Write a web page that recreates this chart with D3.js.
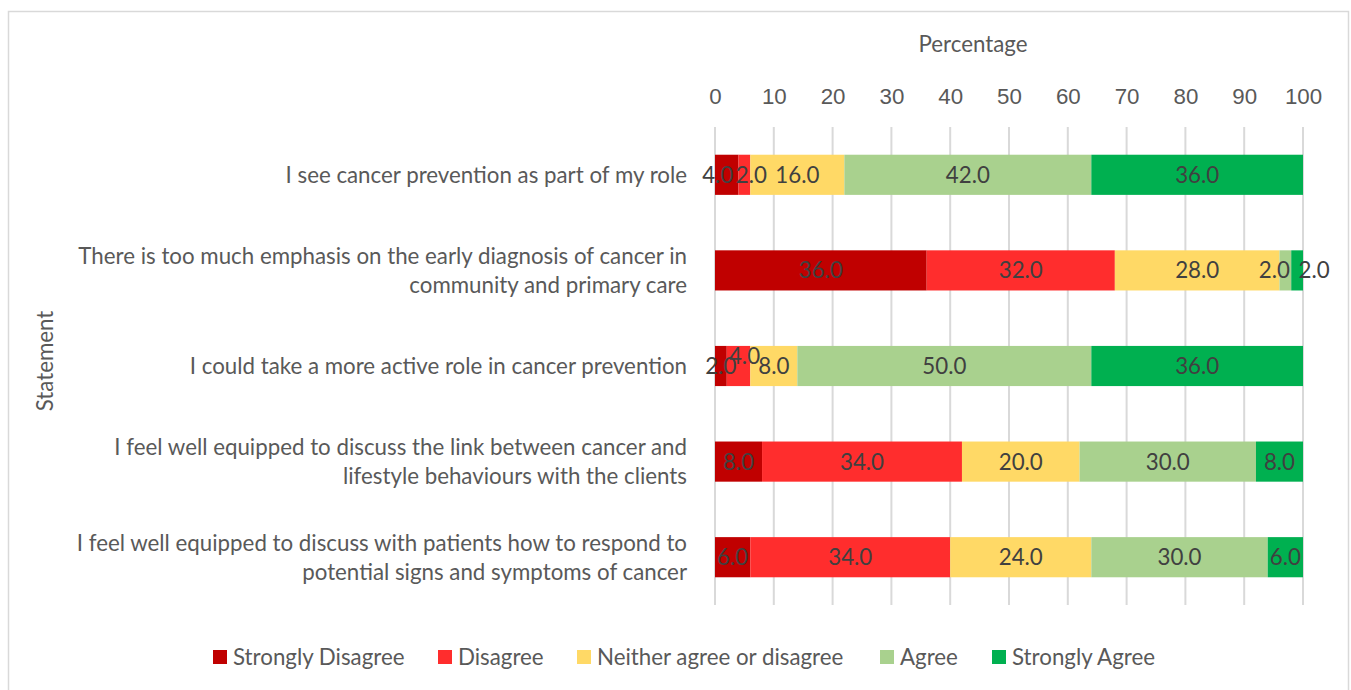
<!DOCTYPE html>
<html>
<head>
<meta charset="utf-8">
<script src="https://cdn.jsdelivr.net/npm/d3@7"></script>
<style>
body { margin: 0; background: #fff; }
svg { font-family: Lato, "Open Sans", sans-serif; }
</style>
</head>
<body>
<svg id="chart" width="1351" height="690"></svg>
<script>
var statements = [
	["I see cancer prevention as part of my role"],
	["There is too much emphasis on the early diagnosis of cancer in", "community  and primary care"],
	["I could take a more active role in cancer prevention"],
	["I feel well equipped to discuss the link between cancer and", "lifestyle behaviours with the clients"],
	["I feel well equipped to discuss with patients how to respond to", "potential signs and symptoms of cancer"]
];
var seriesNames = ["Strongly Disagree", "Disagree", "Neither agree or disagree", "Agree", "Strongly Agree"];
var seriesColors = ["#C00000", "#FF2D2D", "#FFD966", "#A9D18E", "#00B050"];
var stronglyDisagree = [4, 36, 2, 8, 6];
var disagree = [2, 32, 4, 34, 34];
var neither = [16, 28, 8, 20, 24];
var agree = [42, 2, 50, 30, 30];
var stronglyAgree = [36, 2, 36, 8, 6];
var xTicks = [0, 10, 20, 30, 40, 50, 60, 70, 80, 90, 100];

// small nudges for crowded labels, as in the original
var labelNudge = { "0-0": [-9, 0], "0-1": [7, 0], "1-3": [-11, 0], "1-4": [17, 0], "2-1": [6, -10] };

var allSeries = [stronglyDisagree, disagree, neither, agree, stronglyAgree];
var rows = statements.map(function(s, i) {
	var r = { idx: i };
	seriesNames.forEach(function(n, j) { r[n] = allSeries[j][i]; });
	return r;
});

var svg = d3.select("#chart");
var textCol = "#595959";
var fs = "22.3px";

svg.append("rect")
	.attr("x", 8.5).attr("y", 11.5).attr("width", 1340).attr("height", 700)
	.style("fill", "none").style("stroke", "#d9d9d9").style("stroke-width", 1.5);

var xScale = d3.scaleLinear().domain([0, 100]).range([715, 1303]);
var yScale = d3.scaleBand().domain(d3.range(statements.length)).range([127, 605]).paddingInner(0.58).paddingOuter(0.29);

// gridlines
svg.append("g").selectAll("line")
	.data(xTicks).enter().append("line")
	.attr("x1", d => xScale(d)).attr("x2", d => xScale(d))
	.attr("y1", 127).attr("y2", 605)
	.style("stroke", "#d9d9d9").style("stroke-width", 2);

// top axis labels
var xAxis = d3.axisTop(xScale).tickValues(xTicks).tickSize(0).tickPadding(0);
var gx = svg.append("g").attr("transform", "translate(0,104)").call(xAxis);
gx.select(".domain").remove();
gx.selectAll("text").style("font-size", fs).style("fill", textCol).style("font-family", "inherit");

svg.append("text").attr("x", xScale(50) - 36).attr("y", 52).attr("text-anchor", "middle")
	.style("font-size", fs).style("fill", textCol).text("Percentage");

svg.append("text").attr("transform", "translate(53,361) rotate(-90)").attr("text-anchor", "middle")
	.style("font-size", fs).style("fill", textCol).text("Statement");

var stack = d3.stack().keys(seriesNames)(rows);

var layers = svg.append("g").selectAll("g")
	.data(stack).enter().append("g")
	.style("fill", (d, i) => seriesColors[i]);

layers.selectAll("rect")
	.data(d => d).enter().append("rect")
	.attr("x", d => xScale(d[0]))
	.attr("y", d => yScale(d.data.idx))
	.attr("width", d => xScale(d[1]) - xScale(d[0]))
	.attr("height", yScale.bandwidth());

// data labels
stack.forEach(function(layer, j) {
	svg.append("g").selectAll("text")
		.data(layer).enter().append("text")
		.attr("x", function(d) {
			var n = labelNudge[d.data.idx + "-" + j];
			return xScale((d[0] + d[1]) / 2) + (n ? n[0] : 0);
		})
		.attr("y", function(d) {
			var n = labelNudge[d.data.idx + "-" + j];
			return yScale(d.data.idx) + yScale.bandwidth() / 2 + 8 + (n ? n[1] : 0);
		})
		.attr("text-anchor", "middle")
		.style("font-size", fs).style("fill", "#404040")
		.text(d => (d[1] - d[0]).toFixed(1));
});

// category labels
var cat = svg.append("g").selectAll("text")
	.data(statements).enter().append("text")
	.attr("text-anchor", "end")
	.attr("x", 687)
	.attr("y", (d, i) => yScale(i) + yScale.bandwidth() / 2 + 8 - (d.length - 1) * 14.5)
	.style("font-size", fs).style("fill", textCol);
cat.selectAll("tspan").data(d => d).enter().append("tspan")
	.attr("x", 687).attr("dy", (d, i) => i ? 29 : 0)
	.text(d => d);

// legend
var legendX = [213, 438, 577, 880, 992];
var leg = svg.append("g").selectAll("g")
	.data(seriesNames).enter().append("g")
	.attr("transform", (d, i) => "translate(" + legendX[i] + ",650)");
leg.append("rect").attr("width", 14).attr("height", 14)
	.style("fill", (d, i) => seriesColors[i]);
leg.append("text").attr("x", 20).attr("y", 15)
	.style("font-size", fs).style("fill", textCol).text(d => d);
</script>
</body>
</html>
